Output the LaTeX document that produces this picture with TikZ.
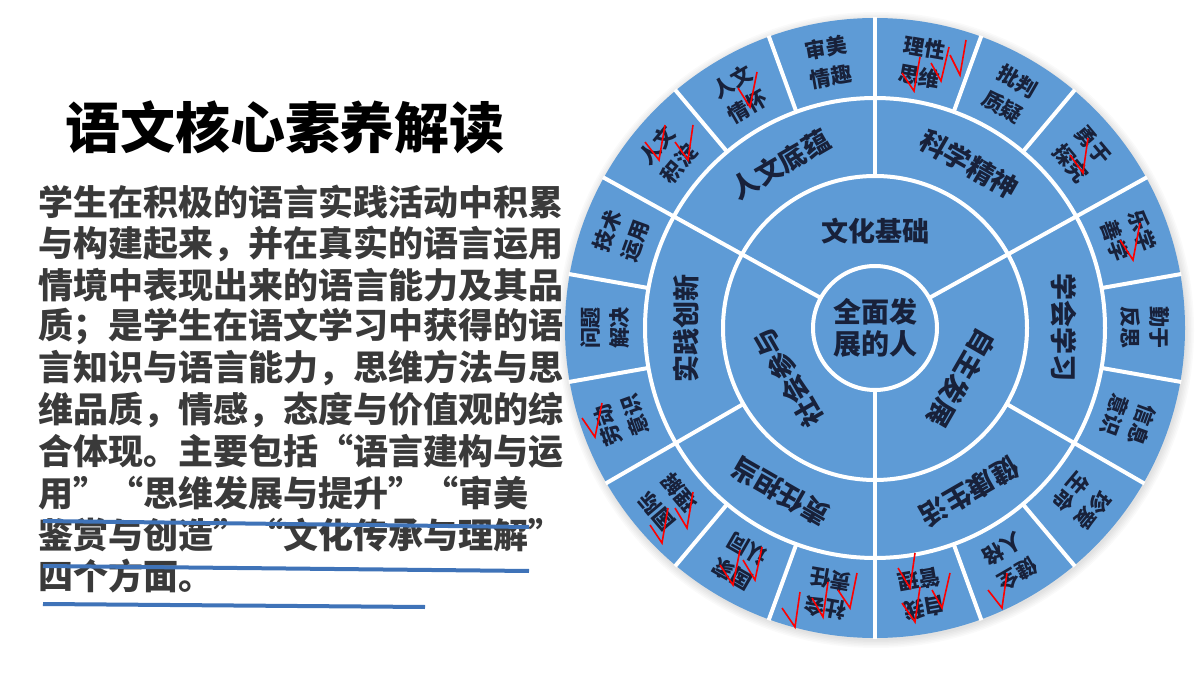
\documentclass[tikz,border=0pt]{standalone}
\usepackage{fontspec}
\setmainfont{Noto Sans CJK SC}
\definecolor{wheel}{HTML}{5E9BD6}
\definecolor{ink}{HTML}{18213A}
\definecolor{para}{HTML}{3A3A3A}
\definecolor{pen}{HTML}{3F73B8}
\newcommand\myoq{\makebox[1em][r]{“}}
\newcommand\mycq{\makebox[1em][l]{”}}
\begin{document}
\begin{tikzpicture}[x=1pt,y=-1pt,
  sep/.style={draw=white, line width=4pt},
  outerlab/.style={font=\fontsize{21}{29}\selectfont\bfseries, text=ink, align=center, inner sep=0pt},
  midlab/.style={font=\fontsize{27}{30}\selectfont\bfseries, text=ink, inner sep=0pt},
  paraline/.style={anchor=west, font=\fontsize{35}{35}\selectfont\bfseries, text=para, inner sep=0pt},
  checkmark/.style={draw=red, line width=1.6pt, line join=miter},
  penline/.style={draw=pen, line width=4pt}]
\useasboundingbox (0,0) rectangle (1200,676);
\fill[white] (0,0) rectangle (1200,676);

% title
\node[font=\fontsize{55}{55}\selectfont\bfseries, inner sep=0pt] (title) at (285,127) {语文核心素养解读};

% paragraph
\node[paraline] (l1) at (38,202) {学生在积极的语言实践活动中积累};
\node[paraline] (l2) at (38,243.6) {与构建起来，并在真实的语言运用};
\node[paraline] (l3) at (38,285.2) {情境中表现出来的语言能力及其品};
\node[paraline] (l4) at (38,326.8) {质；是学生在语文学习中获得的语};
\node[paraline] (l5) at (38,368.4) {言知识与语言能力，思维方法与思};
\node[paraline] (l6) at (38,410) {维品质，情感，态度与价值观的综};
\node[paraline] (l7) at (38,451.6) {合体现。主要包括\myoq 语言建构与运};
\node[paraline] (l8) at (38,493.2) {用\mycq\myoq 思维发展与提升\mycq\myoq 审美};
\node[paraline] (l9) at (38,534.8) {鉴赏与创造\mycq\myoq 文化传承与理解\mycq};
\node[paraline] (l10) at (38,576.4) {四个方面。};

% wheel
\begin{scope}[shift={(875,328)}, y=1pt]
  \foreach \i in {1,...,6} \fill[black, opacity=0.018] (1,-2) circle ({309+1.5*\i});
  \fill[wheel] (0,0) circle (310);
  \draw[sep] (0,0) circle (62) (0,0) circle (152) (0,0) circle (230);
  \foreach \a in {29,151,270} \draw[sep] (\a:62) -- (\a:311);
  \foreach \a in {90,-30,-150} \draw[sep] (\a:152) -- (\a:311);
  \foreach \a in {10,50,70,110,130,170,190,230,250,290,310,350} \draw[sep] (\a:230) -- (\a:311);

  \node[font=\fontsize{28}{32}\selectfont\bfseries, align=center, text=ink, inner sep=0pt] (core) at (0,0) {全面发\\展的人};

  \node[midlab, rotate=0] (i1) at (90:97) {文化基础};
  \node[midlab, rotate=-120] (i2) at (-30:100) {自主发展};
  \node[midlab, rotate=120] (i3) at (210:100) {社会参与};

  \node[midlab, rotate=30] (m1) at (120:189) {人文底蕴};
  \node[midlab, rotate=-30] (m2) at (60:189) {科学精神};
  \node[midlab, rotate=-90] (m3) at (0:189) {学会学习};
  \node[midlab, rotate=-150] (m4) at (-60:189) {健康生活};
  \node[midlab, rotate=150] (m5) at (-120:189) {责任担当};
  \node[midlab, rotate=90] (m6) at (180:189) {实践创新};

  \foreach \a/\t in {100/{审美\\情趣}, 120/{人文\\情怀}, 140/{人文\\积淀}, 160/{技术\\运用},
    180/{问题\\解决}, 200/{劳动\\意识}, 220/{国际\\理解}, 240/{国家\\认同},
    260/{社会\\责任}, 280/{自我\\管理}, 300/{健全\\人格}, 320/{珍爱\\生命},
    340/{信息\\意识}, 0/{勤于\\反思}, 20/{乐学\\善学}, 40/{勇于\\探究},
    60/{批判\\质疑}, 80/{理性\\思维}}
    \node[outerlab, rotate=\a-90] (o\a) at (\a:270) {\t};
\end{scope}

% red check marks
\foreach \ax/\ay/\bx/\by/\cx/\cy in {
  645/142/659/160/665/125, 675/142/688/160/693/125, 738/88/750/107/757/72,
  902/73/914/91/920/57, 931/63/941/81/949/47, 950/55/960/75/966/40,
  1070/155/1083/173/1088/138, 1120/240/1133/260/1140/223, 582/418/595/437/602/403,
  650/525/662/543/668/508, 675/508/687/528/693/492, 720/565/733/585/740/550,
  743/560/755/580/762/547, 782/608/795/627/800/592, 812/598/823/617/828/582,
  838/590/850/608/857/573, 898/568/910/588/915/553, 902/603/915/622/920/587,
  932/590/942/608/950/573, 988/590/1002/608/1007/573}
  \draw[checkmark] (\ax,\ay) -- (\bx,\by) -- (\cx,\cy);

% blue pen strokes
\coordinate (p1a) at (43,521); \coordinate (p1b) at (529,527);
\coordinate (p2a) at (43,566); \coordinate (p2b) at (529,571);
\coordinate (p3a) at (43,604); \coordinate (p3b) at (425,607);
\draw[penline] (p1a) -- (p1b);
\draw[penline] (p2a) -- (p2b);
\draw[penline] (p3a) -- (p3b);
\end{tikzpicture}
\end{document}
